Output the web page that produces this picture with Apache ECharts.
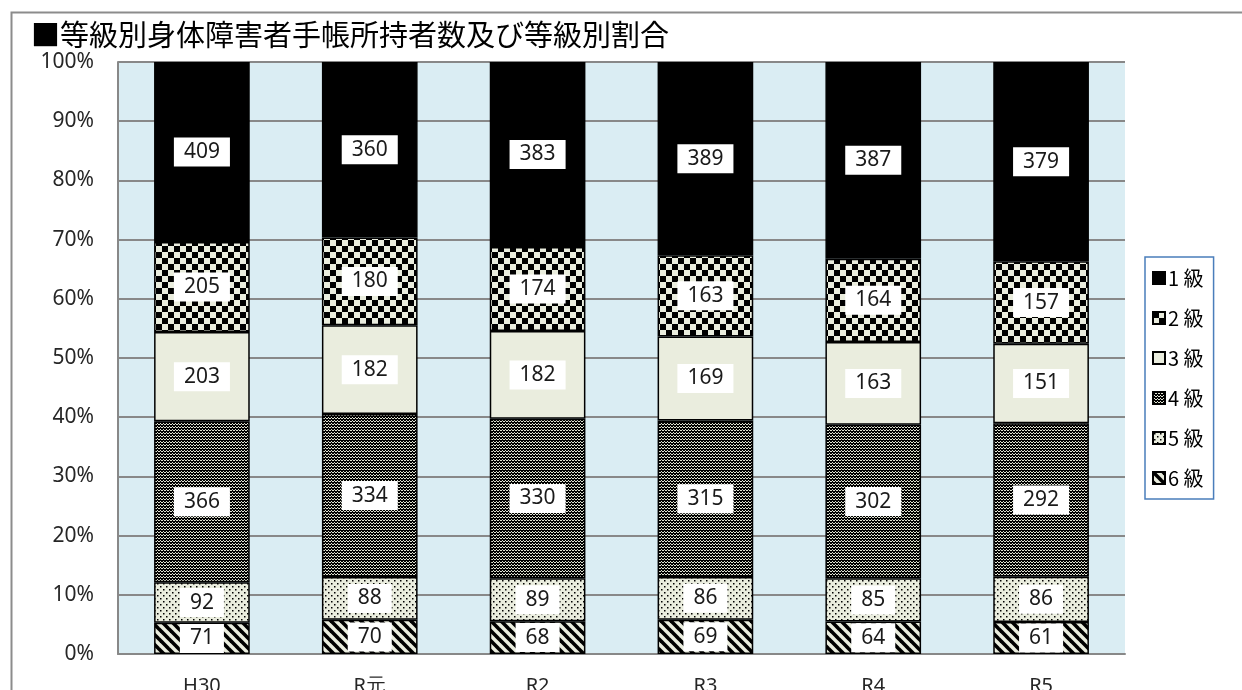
<!DOCTYPE html>
<html>
<head>
<meta charset="utf-8">
<script src="https://cdn.jsdelivr.net/npm/echarts@6/dist/echarts.min.js"></script>
<style>
html,body{margin:0;padding:0;background:#fff;}
#chart{width:1242px;height:690px;}
</style>
</head>
<body>
<div id="chart"></div>
<script>
const categories = ['H30', 'R元', 'R2', 'R3', 'R4', 'R5'];
const grade1 = [409, 360, 383, 389, 387, 379];
const grade2 = [205, 180, 174, 163, 164, 157];
const grade3 = [203, 182, 182, 169, 163, 151];
const grade4 = [366, 334, 330, 315, 302, 292];
const grade5 = [92, 88, 89, 86, 85, 86];
const grade6 = [71, 70, 68, 69, 64, 61];
const seriesNames = ['1級', '2級', '3級', '4級', '5級', '6級'];
const yTicks = [0, 10, 20, 30, 40, 50, 60, 70, 80, 90, 100];

const CREAM = '#eaedde';
function makeTile(w, h, draw) {
  const c = document.createElement('canvas');
  c.width = w; c.height = h;
  const g = c.getContext('2d');
  draw(g, w, h);
  return { image: c, repeat: 'repeat' };
}
const patSolid = '#000000';
const patChecker = makeTile(12, 12, (g) => {
  g.fillStyle = CREAM; g.fillRect(0, 0, 12, 12);
  g.fillStyle = '#000'; g.fillRect(0, 0, 6, 6); g.fillRect(6, 6, 6, 6);
});
const patPlain = CREAM;
const patDense = makeTile(6, 6, (g) => {
  g.fillStyle = '#000'; g.fillRect(0, 0, 6, 6);
  g.fillStyle = '#dfe2d2';
  g.fillRect(1, 0, 1, 1); g.fillRect(4, 0, 1, 1);
  g.fillRect(0, 1, 1, 1); g.fillRect(2, 1, 1, 1); g.fillRect(3, 1, 1, 1); g.fillRect(5, 1, 1, 1);
  g.fillRect(1, 3, 1, 1); g.fillRect(4, 3, 1, 1);
  g.fillRect(0, 4, 1, 1); g.fillRect(2, 4, 1, 1); g.fillRect(3, 4, 1, 1); g.fillRect(5, 4, 1, 1);
});
const patDots = makeTile(6, 6, (g) => {
  g.fillStyle = CREAM; g.fillRect(0, 0, 6, 6);
  g.fillStyle = '#000';
  g.fillRect(1, 1, 1.5, 1.5); g.fillRect(4, 4, 1.5, 1.5);
});
const patStripe = makeTile(10, 10, (g) => {
  g.fillStyle = CREAM; g.fillRect(0, 0, 10, 10);
  g.strokeStyle = '#000'; g.lineWidth = 3.6;
  for (let k = -10; k <= 10; k += 10) {
    g.beginPath(); g.moveTo(k - 2, -2); g.lineTo(k + 12, 12); g.stroke();
  }
});

const raw = [grade1, grade2, grade3, grade4, grade5, grade6];
const fills = [patSolid, patChecker, patPlain, patDense, patDots, patStripe];
const totals = categories.map((_, i) => raw.reduce((s, arr) => s + arr[i], 0));

// stack from 6級 (bottom) to 1級 (top)
const series = [];
for (let k = 5; k >= 0; k--) {
  series.push({
    name: seriesNames[k],
    type: 'bar',
    stack: 'all',
    barWidth: '57%',
    data: raw[k].map((v, i) => v / totals[i] * 100),
    itemStyle: { color: fills[k], borderColor: '#000', borderWidth: 1.5 },
    label: {
      show: true,
      position: 'inside',
      formatter: (p) => String(raw[k][p.dataIndex]),
      backgroundColor: '#fff',
      color: '#1a1a1a',
      fontSize: 21,
      fontFamily: 'Noto Sans, sans-serif',
      padding: [5, 10, 3, 10]
    },
    emphasis: { disabled: true }
  });
}

const chart = echarts.init(document.getElementById('chart'));
chart.setOption({
  animation: false,
  backgroundColor: '#fff',
  graphic: [
    { type: 'rect', left: 9, top: 10, shape: { width: 1300, height: 800 },
      style: { fill: 'none', stroke: '#8c8c8c', lineWidth: 2 }, silent: true }
  ],
  title: {
    text: '■等級別身体障害者手帳所持者数及び等級別割合',
    left: 26, top: 15,
    textStyle: { fontSize: 29, fontWeight: 'normal', color: '#000', fontFamily: 'Noto Sans CJK JP' }
  },
  legend: {
    data: seriesNames,
    orient: 'vertical',
    left: 1145, top: 257,
    padding: [11, 10, 11, 7],
    itemGap: 20,
    itemWidth: 12, itemHeight: 12,
    icon: 'rect',
    borderColor: '#4a7ebb', borderWidth: 1.5,
    formatter: (name) => name.replace('級', ' 級'),
    textStyle: { fontSize: 20, color: '#000', fontFamily: 'Noto Sans CJK JP', padding: [0, 0, 0, -2] },
    selectedMode: false
  },
  grid: {
    left: 118, right: 117, top: 62, bottom: 36,
    outerBoundsMode: 'none',
    containLabel: false,
    show: true, backgroundColor: '#daedf3', borderWidth: 0
  },
  xAxis: {
    type: 'category',
    data: categories,
    axisLine: { lineStyle: { color: '#888', width: 2 } },
    axisTick: { show: false },
    axisLabel: { fontSize: 20, color: '#262626', margin: 22, fontFamily: 'Noto Sans, sans-serif' }
  },
  yAxis: {
    type: 'value',
    min: 0, max: 100, interval: 10,
    axisLine: { show: true, lineStyle: { color: '#888', width: 2 } },
    axisTick: { show: false },
    splitLine: { lineStyle: { color: '#888', width: 2 } },
    axisLabel: {
      fontSize: 21, color: '#262626', margin: 24, fontFamily: 'Noto Sans, sans-serif',
      formatter: (v) => yTicks.includes(v) ? v + '%' : ''
    }
  },
  series: series
});
</script>
</body>
</html>
